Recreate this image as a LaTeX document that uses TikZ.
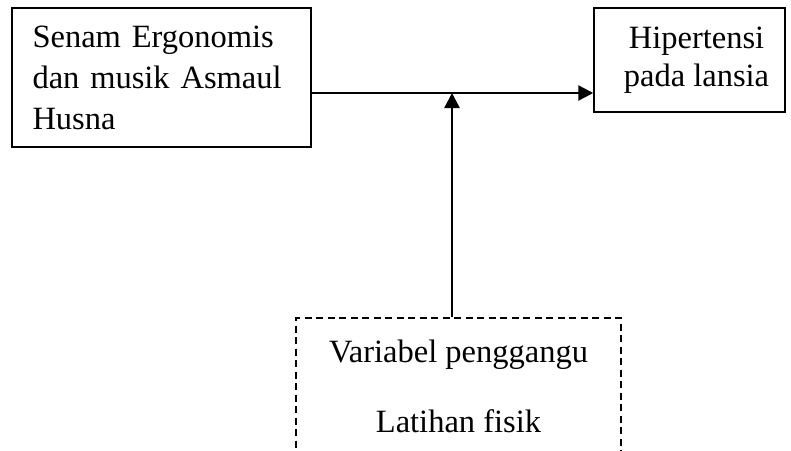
\documentclass[tikz,border=0pt]{standalone}
\usepackage{fontspec}
\setmainfont{Liberation Serif}
\usetikzlibrary{positioning,calc,arrows.meta}

\begin{document}
\begin{tikzpicture}[x=1pt,y=-1pt, line cap=butt, line join=miter,
		font=\fontsize{32.5}{41}\selectfont]
	% ===== khung =====
	\useasboundingbox (0,0) rectangle (791,450);
	
	% ===== style =====
	\tikzset{kotak/.style={draw=black, line width=1.5pt, inner sep=0pt},
		putus/.style={kotak, dash pattern=on 7pt off 4.5pt},
		panah/.style={line width=2.4pt, -{Triangle[length=15pt,width=15pt]}}}
	
	% ===== kotak =====
	\node[kotak, minimum width=299pt, minimum height=139pt, text width=258pt, align=left] (senam) at (161.5,77.5)
	{\raisebox{4pt}{\parbox{258pt}{\raggedright Senam Ergonomis\\ dan musik Asmaul\\ Husna}}};
	\node[kotak, minimum width=191pt, minimum height=104pt] (hipertensi) at (689.5,60)
	{\hspace*{14pt}\parbox{160pt}{\centering Hipertensi\\[-3pt] pada lansia}};
	\node[putus, minimum width=325pt, minimum height=136pt, align=center] (pengganggu) at (458.5,386)
	{\raisebox{3pt}{\parbox{300pt}{\centering Variabel penggangu\\[29pt] Latihan fisik}}};
	
	% ===== panah =====
	\coordinate (temu) at (452,93);
	\draw[panah] (temu -| senam.east) -- (temu -| hipertensi.west);
	\draw[panah] (temu |- pengganggu.north) -- (temu);
\end{tikzpicture}
\end{document}
